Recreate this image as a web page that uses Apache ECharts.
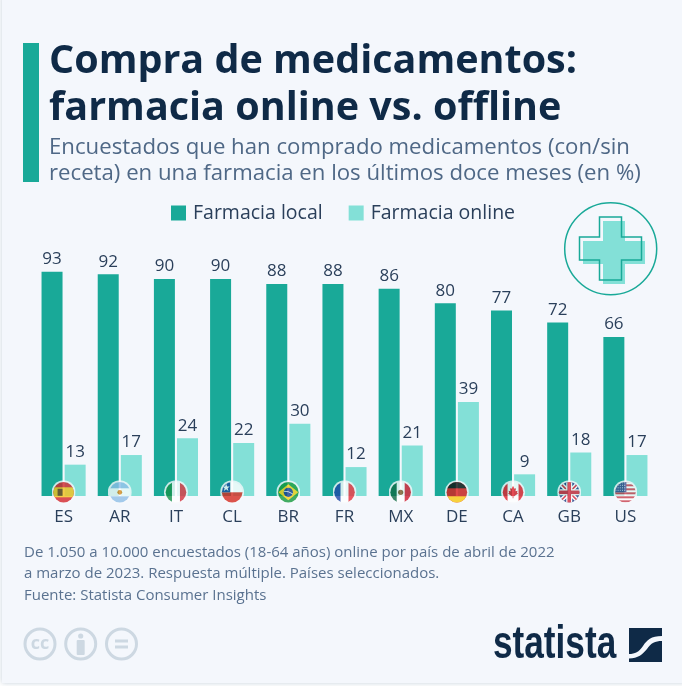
<!DOCTYPE html>
<html><head><meta charset="utf-8">
<style>html,body{margin:0;padding:0;background:#fff}#c{width:682px;height:686px}</style>
<script src="https://cdn.jsdelivr.net/npm/echarts@6/dist/echarts.min.js"></script>
</head><body><div id="c"></div>
<script>
const categories = ['ES','AR','IT','CL','BR','FR','MX','DE','CA','GB','US'];
const farmaciaLocal = [93,92,90,90,88,88,86,80,77,72,66];
const farmaciaOnline = [13,17,24,22,30,12,21,39,9,18,17];
const seriesNames = ['Farmacia local','Farmacia online'];
const titleText = 'Compra de medicamentos:\nfarmacia online vs. offline';
const subtitleText = 'Encuestados que han comprado medicamentos (con/sin\nreceta) en una farmacia en los últimos doce meses (en %)';
const footnoteLines = ['De 1.050 a 10.000 encuestados (18-64 años) online por país de abril de 2022','a marzo de 2023. Respuesta múltiple. Países seleccionados.','Fuente: Statista Consumer Insights'];

const DARK='#0f2a47', TEAL='#19a998', MINT='#83e0d7', SLATE='#4f6886', FOOT='#5a7290', LABEL='#2a3f5a', ICON='#cdd8e2', BG='#f4f7fc';
const FONT='"Open Sans","Noto Sans",sans-serif';

const rect=(x,y,w,h,f)=>`<rect x="${x}" y="${y}" width="${w}" height="${h}" fill="${f}"/>`;
const flagArt={
 ES:rect(0,0,24,24,'#d4262c')+rect(0,7,24,10,'#f6c21c')+rect(6,8.5,5,7,'#7a4a1c'),
 AR:rect(0,0,24,24,'#fff')+rect(0,0,24,8,'#8fbfe8')+rect(0,16,24,8,'#8fbfe8')+'<circle cx="12" cy="12" r="2.4" fill="#d98a1e"/>',
 IT:rect(0,0,24,24,'#fff')+rect(0,0,8,24,'#16924a')+rect(16,0,8,24,'#d3303c'),
 CL:rect(0,0,24,24,'#fff')+rect(0,12,24,12,'#d62b1f')+rect(0,0,10,12,'#1c4fa0')+'<polygon points="6,3.5 7,6.2 9.6,6.2 7.5,8 8.3,10.6 6,9 3.7,10.6 4.5,8 2.4,6.2 5,6.2" fill="#fff"/>',
 BR:rect(0,0,24,24,'#169a3e')+'<polygon points="12,4 22,12 12,20 2,12" fill="#f7d116"/><circle cx="12" cy="12" r="4.6" fill="#1b3f8f"/><path d="M7.6 11 Q12 10.5 16.4 13.6" stroke="#fff" stroke-width=".8" fill="none"/>',
 FR:rect(0,0,24,24,'#fff')+rect(0,0,8,24,'#1f48a8')+rect(16,0,8,24,'#e8303c'),
 MX:rect(0,0,24,24,'#fff')+rect(0,0,8,24,'#0f6b45')+rect(16,0,8,24,'#cf1a2e')+'<circle cx="12" cy="12" r="2.6" fill="#7a5a2a"/>',
 DE:rect(0,0,24,24,'#dd1c1c')+rect(0,0,24,8,'#111')+rect(0,16,24,8,'#f8c80e'),
 CA:rect(0,0,24,24,'#fff')+rect(0,0,6.5,24,'#e3202c')+rect(17.5,0,6.5,24,'#e3202c')+'<polygon points="12,5.5 13.4,8.5 15,8 14.4,11 16.5,10.5 16,12.5 17,13.2 13.2,16 12.4,15.6 12.4,18 11.6,18 11.6,15.6 10.8,16 7,13.2 8,12.5 7.5,10.5 9.6,11 9,8 10.6,8.5" fill="#e3202c"/>',
 GB:rect(0,0,24,24,'#1f3a80')+'<path d="M0 0L24 24M24 0L0 24" stroke="#fff" stroke-width="4.4"/><path d="M0 0L24 24M24 0L0 24" stroke="#d3283a" stroke-width="1.6"/>'+rect(9,0,6,24,'#fff')+rect(0,9,24,6,'#fff')+rect(10.2,0,3.6,24,'#d3283a')+rect(0,10.2,24,3.6,'#d3283a'),
 US:rect(0,0,24,24,'#fff')+[0,4,8,12,16,20].map(y=>rect(0,y,24,2,'#c9404e')).join('')+rect(0,0,13,12,'#3d4f8f')+'<path d="M2 2.5H12M2 5H12M2 7.5H12M2 10H12" stroke="#dfe4f2" stroke-width=".9" stroke-dasharray="1 1.2"/>'
};
const svgUri=svg=>'data:image/svg+xml;charset=utf-8,'+encodeURIComponent(svg);
function flagUri(code){
 return 'image://'+svgUri(`<svg xmlns="http://www.w3.org/2000/svg" width="96" height="96" viewBox="0 0 24 24"><defs><clipPath id="k"><circle cx="12" cy="12" r="10.3"/></clipPath></defs><circle cx="12" cy="12" r="12" fill="#f7f9fc"/><g clip-path="url(#k)">${flagArt[code]}</g></svg>`);
}
const logoMark=svgUri(`<svg xmlns="http://www.w3.org/2000/svg" width="132" height="136" viewBox="0 0 33 34"><path fill="${DARK}" d="M0 0H33V8C22 8 18 12 14 18C10 24 6 26 0 26ZM33 13V34H0V30.5C9 30.5 14 26 18 21C22 15 26 13 33 13Z"/></svg>`);

const cross=(x,y)=>[[x+20,y],[x+42,y],[x+42,y+20],[x+62,y+20],[x+62,y+43],[x+42,y+43],[x+42,y+63],[x+20,y+63],[x+20,y+43],[x,y+43],[x,y+20],[x+20,y+20]];
const txt=(x,y,text,fontSize,fill,extra)=>({type:'text',x,y,silent:true,style:Object.assign({text,fontSize,fill,fontFamily:FONT,textVerticalAlign:'middle'},extra||{})});
const ccRing=(cx,inner)=>({type:'group',silent:true,children:[{type:'circle',shape:{cx,cy:644,r:15},style:{fill:'none',stroke:ICON,lineWidth:3}}].concat(inner)});

const chart=echarts.init(document.getElementById('c'));
chart.setOption({
 animation:false,
 backgroundColor:'#fff',
 textStyle:{fontFamily:FONT},
 title:[
  {text:titleText,left:44,top:33.5,textStyle:{fontSize:39.5,fontWeight:700,color:DARK,lineHeight:46.5,fontFamily:FONT}},
  {text:subtitleText,left:44,top:130,textStyle:{fontSize:22.2,fontWeight:400,color:SLATE,lineHeight:26,fontFamily:FONT}}
 ],
 legend:{data:seriesNames,left:166,top:198,itemWidth:15,itemHeight:15,itemGap:26,icon:'rect',selectedMode:false,
  textStyle:{fontSize:19.5,color:LABEL,fontFamily:FONT,padding:[0,0,0,2]}},
 grid:{left:35.5,width:618,top:255,height:241,containLabel:false},
 xAxis:{type:'category',data:categories,axisLine:{show:false},axisTick:{show:false},
  axisLabel:{fontSize:17,color:LABEL,margin:13,fontFamily:FONT}},
 yAxis:{type:'value',min:0,max:100,show:false,splitLine:{show:false}},
 series:[
  {name:seriesNames[0],type:'bar',data:farmaciaLocal,barWidth:21,barGap:'10%',itemStyle:{color:TEAL},
   label:{show:true,position:'top',distance:4,fontSize:17,color:LABEL,fontFamily:FONT}},
  {name:seriesNames[1],type:'bar',data:farmaciaOnline,barWidth:21,itemStyle:{color:MINT},
   label:{show:true,position:'top',distance:4,fontSize:17,color:LABEL,fontFamily:FONT}},
  {type:'scatter',silent:true,clip:false,z:5,symbolSize:24,symbolOffset:[0,-3.7],label:{show:false},tooltip:{show:false},
   data:categories.map(c=>({name:c,value:[c,0],symbol:flagUri(c)}))}
 ],
 graphic:[
  {type:'rect',z:-10,silent:true,shape:{x:2,y:-4,width:684,height:687},style:{fill:BG,shadowBlur:5,shadowColor:'rgba(90,120,150,.35)'}},
  {type:'rect',silent:true,shape:{x:23,y:43,width:16,height:139},style:{fill:TEAL}},
  {type:'circle',silent:true,shape:{cx:610.7,cy:248.7,r:46},style:{fill:'none',stroke:TEAL,lineWidth:1.5}},
  {type:'polygon',silent:true,shape:{points:cross(583,221)},style:{fill:MINT}},
  {type:'polygon',silent:true,shape:{points:cross(579.5,217)},style:{fill:'none',stroke:TEAL,lineWidth:1.5}},
  txt(24,553,footnoteLines[0],15,FOOT),
  txt(24,574,footnoteLines[1],15,FOOT),
  txt(24,596,footnoteLines[2],15,FOOT),
  ccRing(40,[txt(40,643.5,'cc',18,ICON,{textAlign:'center',fontWeight:700})]),
  ccRing(80.7,[{type:'circle',shape:{cx:80.7,cy:636,r:2.6},style:{fill:ICON}},{type:'rect',shape:{x:76.7,y:640,width:8,height:15,r:1},style:{fill:ICON}}]),
  ccRing(121.5,[{type:'rect',shape:{x:115,y:639.5,width:13,height:3},style:{fill:ICON}},{type:'rect',shape:{x:115,y:645.5,width:13,height:3},style:{fill:ICON}}]),
  {type:'text',x:493,y:645,silent:true,scaleX:.765,style:{text:'statista',fontSize:46,fontWeight:700,fill:DARK,fontFamily:'"Liberation Sans Narrow","Liberation Sans",sans-serif',textVerticalAlign:'middle'}},
  {type:'image',silent:true,style:{image:logoMark,x:629,y:628,width:33,height:34}}
 ]
});
</script></body></html>
